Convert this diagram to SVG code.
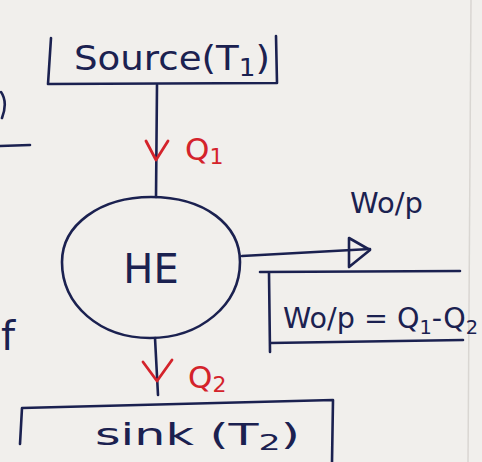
<svg xmlns="http://www.w3.org/2000/svg" width="482" height="462" viewBox="0 0 482 462">
  <defs>
    <style>
      .ink { fill: none; stroke: #1b2150; stroke-width: 2.6; stroke-linecap: round; stroke-linejoin: round; }
      .red { fill: none; stroke: #d4232b; stroke-width: 2.8; stroke-linecap: round; stroke-linejoin: round; }
      .t { font-family: "DejaVu Sans", "Liberation Sans", sans-serif; fill: #1b2150; }
      .tr { font-family: "DejaVu Sans", "Liberation Sans", sans-serif; fill: #d4232b; }
    </style>
  </defs>

  <!-- paper -->
  <rect x="0" y="0" width="482" height="462" fill="#f1efec"/>
  <line x1="471" y1="0" x2="468" y2="462" stroke="#d9d6d2" stroke-width="1.5"/>

  <!-- fragments at the left margin of the page -->
  <path class="ink" d="M1,92 Q8,102 2,118"/>
  <path class="ink" d="M0,146 L30,145"/>
  <text class="t" x="1" y="350" font-size="40">f</text>

  <!-- source reservoir -->
  <g id="source">
    <path class="ink" d="M51,38 L48,84 L277,83 L276,36"/>
    <text class="t" x="74" y="70" font-size="34" textLength="196" lengthAdjust="spacingAndGlyphs">Source(T<tspan font-size="24" dy="6">1</tspan><tspan dy="-6">)</tspan></text>
  </g>

  <!-- heat engine -->
  <g id="engine">
    <path class="ink" d="M151,197 C205,197 240,225 240,262 C240,305 200,338 150,338 C100,338 62,305 62,262 C62,225 100,197 151,197 Z"/>
    <text class="t" x="151" y="283" font-size="40" text-anchor="middle">HE</text>
  </g>

  <!-- sink reservoir -->
  <g id="sink">
    <path class="ink" d="M20,444 L22,408 L333,400 L332,462"/>
    <text class="t" x="95" y="445" font-size="31" textLength="205" lengthAdjust="spacingAndGlyphs">sink (T<tspan font-size="22" dy="5">2</tspan><tspan dy="-5">)</tspan></text>
  </g>

  <!-- work output -->
  <g id="work">
    <text class="t" x="350" y="213" font-size="29">Wo/p</text>
  </g>

  <!-- net work relation -->
  <g id="relation">
    <path class="ink" d="M260,272 L460,271"/>
    <path class="ink" d="M269,273 L270,352 M270,343 L463,340"/>
    <text class="t" x="283" y="328" font-size="28" textLength="195" lengthAdjust="spacingAndGlyphs">Wo/p = Q<tspan font-size="19" dy="6">1</tspan><tspan dy="-6">-Q</tspan><tspan font-size="19" dy="6">2</tspan></text>
  </g>

  <!-- connectors -->
  <g id="connectors">
    <path class="ink" d="M157,85 L156,197"/>
    <path class="red" d="M146,141 L156,160 L168,141"/>
    <text class="tr" x="185" y="160" font-size="31">Q<tspan font-size="22" dy="4">1</tspan></text>

    <path class="ink" d="M155,338 L158,395"/>
    <path class="red" d="M143,362 L157,381 L172,360"/>
    <text class="tr" x="188" y="388" font-size="31">Q<tspan font-size="22" dy="4">2</tspan></text>

    <path class="ink" d="M242,256 L370,249"/>
    <path class="ink" d="M349,238 L370,250 L349,267 Z"/>
  </g>
</svg>
